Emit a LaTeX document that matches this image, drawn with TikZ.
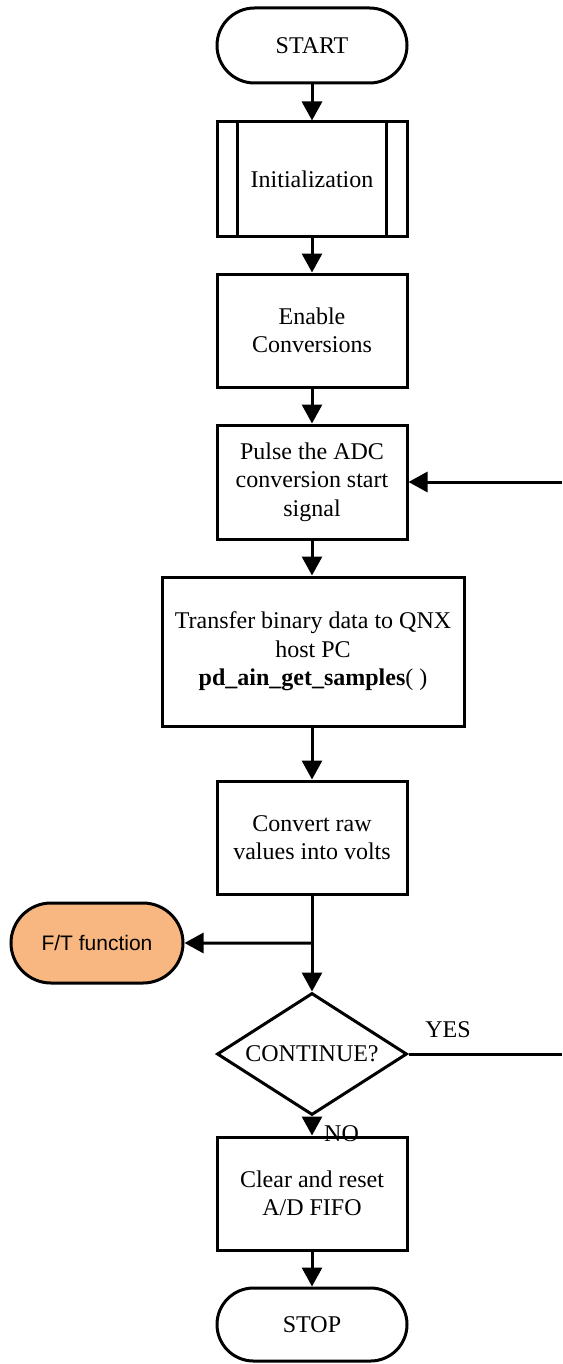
\documentclass[tikz,border=0pt]{standalone}
\usepackage{fontspec}
\setmainfont{Liberation Serif}
\newfontfamily\arialfont{Liberation Sans}
\usetikzlibrary{arrows.meta,shapes.geometric,shapes.misc}
\definecolor{peach}{HTML}{F8B780}
\begin{document}
\begin{tikzpicture}[x=1pt,y=-1pt,
  base/.style={draw=black,line width=3pt,align=center,inner sep=0pt,
    font=\fontsize{24}{28.5}\selectfont},
  procbox/.style={base,rectangle,minimum width=190pt,minimum height=114pt},
  termbox/.style={base,rounded rectangle,minimum width=190pt,minimum height=75pt},
  decbox/.style={base,diamond,aspect=1.557,minimum width=190pt,minimum height=122pt,inner sep=0pt},
  flow/.style={line width=3pt,-{Triangle[width=20pt,length=19pt]}},
  plain/.style={line width=3pt},
  lbl/.style={font=\fontsize{24}{28}\selectfont,inner sep=0pt}]
\useasboundingbox (0,0) rectangle (562,1364);

% main column
\node[termbox] (start) at (312,45.5) {START};
\node[procbox,minimum height=115pt] (init) at (312,179.5) {Initialization};
\draw[line width=3pt] ([xshift=22pt]init.north west) -- ([xshift=22pt]init.south west)
  ([xshift=-22pt]init.north east) -- ([xshift=-22pt]init.south east);
\node[procbox,minimum height=113pt] (enable) at (312,330.5) {Enable\\Conversions};
\node[procbox] (pulse) at (312,482) {Pulse the ADC\\conversion start\\signal};
\node[procbox,minimum width=302pt,minimum height=149pt] (xfer) at (313,651.5)
  {Transfer binary data to QNX\\host PC\\\textbf{pd\_ain\_get\_samples}( )};
\node[procbox,minimum height=113pt] (conv) at (312,837.5) {Convert raw\\values into volts};
\node[decbox] (cont) at (312,1054) {CONTINUE?};
\node[procbox,minimum height=113pt] (clear) at (312,1193.5) {Clear and reset\\A/D FIFO};
\node[termbox,minimum height=73pt] (stop) at (312,1324.5) {STOP};

% side output
\node[base,rounded rectangle,fill=peach,minimum width=172pt,minimum height=80pt,
  font=\arialfont\fontsize{21}{24}\selectfont] (ft) at (97,943) {F/T function};
\coordinate (split) at (312,943);

% loop-back ends at the page edge
\coordinate (yesend) at (562,1054);
\coordinate (loopin) at (562,482);

% connectors
\draw[flow] (start) -- (init);
\draw[flow] (init) -- (enable);
\draw[flow] (enable) -- (pulse);
\draw[flow] (pulse) -- (pulse |- xfer.north);
\draw[flow] (pulse |- xfer.south) -- (conv);
\draw[plain] (conv) -- (split);
\draw[flow] (split) -- (cont);
\draw[flow] (split) -- (ft);
\draw[plain] (cont.east) -- (yesend);
\draw[flow] (loopin) -- (pulse.east);
\draw[flow] (cont) -- (clear);
\draw[flow] (clear) -- (stop);

% branch labels
\node[lbl,anchor=base] (yes) at (448,1037) {YES};
\node[lbl,anchor=base west] (no) at (324,1141) {NO};
\end{tikzpicture}
\end{document}
